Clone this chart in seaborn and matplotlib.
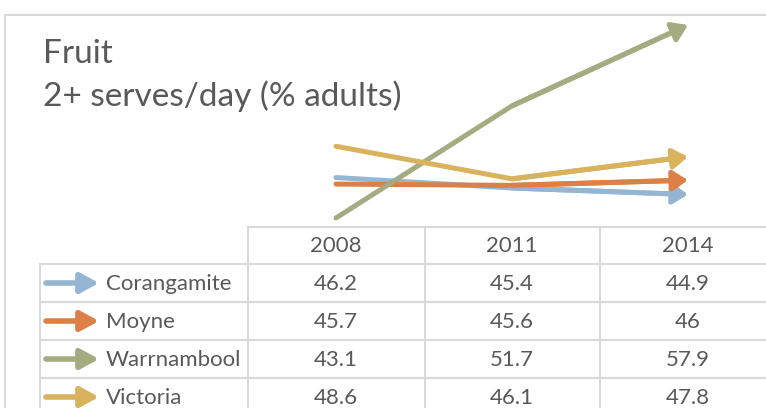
import numpy as np
import pandas as pd
import matplotlib
matplotlib.use("Agg")
import matplotlib.pyplot as plt
from matplotlib.lines import Line2D
import seaborn as sns

# data
years = ["2008", "2011", "2014"]
regions = ["Corangamite", "Moyne", "Warrnambool", "Victoria"]
corangamite = [46.2, 45.4, 44.9]
moyne = [45.7, 45.6, 46.0]
warrnambool = [43.1, 51.7, 57.9]
victoria = [48.6, 46.1, 47.8]
series = [corangamite, moyne, warrnambool, victoria]
colors = ["#94B6D2", "#DD8047", "#A5AB81", "#D8B25C"]

title_lines = ["Fruit", "2+ serves/day (% adults)"]

W, H = 766, 408
GRID = "#D9D9D9"
TXT = "#595959"
FONT = "Lato"


def fx(px):
    return px / W


def fy(py):
    return 1 - py / H


sns.set_style("white")
plt.rcParams["font.family"] = [FONT, "DejaVu Sans"]

fig = plt.figure(figsize=(W / 100, H / 100), dpi=100)

# long table for seaborn
rows = []
for name, vals in zip(regions, series):
    for i, v in enumerate(vals):
        rows.append({"x": i, "value": v, "region": name})
df = pd.DataFrame(rows)

# plot area sits over the table columns
ax = fig.add_axes([fx(248), fy(228), 528 / W, 228 / H])
sns.lineplot(data=df, x="x", y="value", hue="region", hue_order=regions,
             palette=colors, linewidth=3.6, legend=False, sort=False, ax=ax)
ax.set_xlim(-0.5, 2.5)
ax.set_ylim(42.33, 59.82)
ax.axis("off")
fig.canvas.draw()

# round start caps, pull line ends back under the arrow heads
for line, vals, c in zip(ax.lines, series, colors):
    line.set_solid_capstyle("round")
    line.set_clip_on(False)
    xd, yd = line.get_xdata(), line.get_ydata()
    pts = ax.transData.transform(np.column_stack([xd, yd]))
    d = pts[-1] - pts[-2]
    pts[-1] = pts[-1] - d / np.hypot(*d) * 8
    back = ax.transData.inverted().transform(pts)
    line.set_data(back[:, 0], back[:, 1])
    ax.annotate("", xy=(2, vals[2]), xytext=(1, vals[1]),
                arrowprops=dict(arrowstyle="-|>,head_length=0.45,head_width=0.3",
                                color=c, lw=3.6, shrinkA=0, shrinkB=0,
                                mutation_scale=20),
                annotation_clip=False)

# chart border
fig.add_artist(Line2D([fx(5), fx(5)], [fy(15), fy(420)], color=GRID, lw=1.5,
                      transform=fig.transFigure))
fig.add_artist(Line2D([fx(5), fx(780)], [fy(15), fy(15)], color=GRID, lw=1.5,
                      transform=fig.transFigure))

# title
fig.text(fx(43), fy(63), title_lines[0], fontsize=24, color=TXT, va="baseline", ha="left")
fig.text(fx(43), fy(106), title_lines[1], fontsize=24, color=TXT, va="baseline", ha="left")

# data table
col_edges = [248, 425, 600, 776]
col_centers = [336, 512, 688]
row_edges = [264, 302, 340, 378, 416]
fs = 16

def hline(y, x0, x1):
    fig.add_artist(Line2D([fx(x0), fx(x1)], [fy(y), fy(y)], color=GRID, lw=1.5,
                          transform=fig.transFigure))

def vline(x, y0, y1):
    fig.add_artist(Line2D([fx(x), fx(x)], [fy(y0), fy(y1)], color=GRID, lw=1.5,
                          transform=fig.transFigure))

hline(227, 248, 780)
for y in row_edges[:-1]:
    hline(y, 40, 780)
vline(40, 264, 420)
for x in col_edges[:-1]:
    vline(x, 227, 420)

for yr, cx in zip(years, col_centers):
    fig.text(fx(cx), fy(252), yr, fontsize=fs, color=TXT, ha="center", va="baseline")

for r, (name, vals, c) in enumerate(zip(regions, series, colors)):
    cy = (row_edges[r] + row_edges[r + 1]) / 2
    ax.annotate("", xy=(fx(99), fy(cy)), xytext=(fx(46), fy(cy)),
                xycoords="figure fraction", textcoords="figure fraction",
                arrowprops=dict(arrowstyle="-|>,head_length=0.55,head_width=0.3",
                                color=c, lw=4, shrinkA=0, shrinkB=0,
                                capstyle="round", mutation_scale=20),
                annotation_clip=False)
    fig.text(fx(106), fy(cy + 7), name, fontsize=fs, color=TXT, ha="left", va="baseline")
    for v, cx in zip(vals, col_centers):
        fig.text(fx(cx), fy(cy + 7), f"{v:g}", fontsize=fs, color=TXT,
                 ha="center", va="baseline")

fig.savefig("out.png", dpi=100)
